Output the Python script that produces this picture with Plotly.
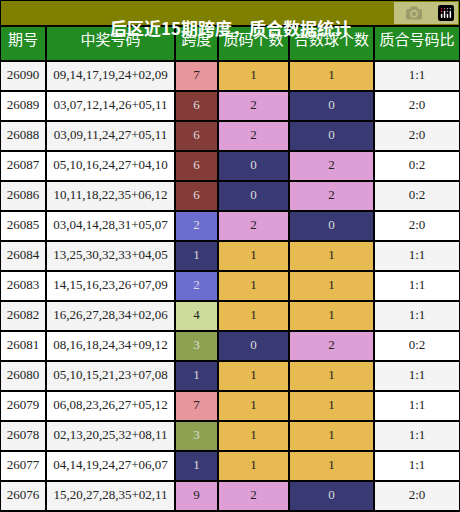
import plotly.graph_objects as go

periods = ["26090", "26089", "26088", "26087", "26086", "26085", "26084", "26083",
           "26082", "26081", "26080", "26079", "26078", "26077", "26076"]
numbers = ["09,14,17,19,24+02,09", "03,07,12,14,26+05,11", "03,09,11,24,27+05,11",
           "05,10,16,24,27+04,10", "10,11,18,22,35+06,12", "03,04,14,28,31+05,07",
           "13,25,30,32,33+04,05", "14,15,16,23,26+07,09", "16,26,27,28,34+02,06",
           "08,16,18,24,34+09,12", "05,10,15,21,23+07,08", "06,08,23,26,27+05,12",
           "02,13,20,25,32+08,11", "04,14,19,24,27+06,07", "15,20,27,28,35+02,11"]
spans = [7, 6, 6, 6, 6, 2, 1, 2, 4, 3, 1, 7, 3, 1, 9]
primes = [1, 2, 2, 0, 0, 2, 1, 1, 1, 0, 1, 1, 1, 1, 2]
composites = [1, 0, 0, 2, 2, 0, 1, 1, 1, 2, 1, 1, 1, 1, 0]
ratios = ["1:1", "2:0", "2:0", "0:2", "0:2", "2:0", "1:1", "1:1",
          "1:1", "0:2", "1:1", "1:1", "1:1", "1:1", "2:0"]
headers = ["期号", "中奖号码", "跨度", "质码个数", "合数球个数", "质合号码比"]

span_col = {1: "#393a74", 2: "#6b6ecf", 3: "#8ca252", 4: "#cedb9c",
            6: "#843c39", 7: "#e7969c", 9: "#de9ed6"}
count_col = {0: "#393a74", 1: "#e7ba52", 2: "#de9ed6"}
dark = {"#393a74", "#6b6ecf", "#8ca252", "#843c39"}

row_bg = ["#f4f4f4" if i % 2 == 0 else "#ffffff" for i in range(len(periods))]
s_bg = [span_col[v] for v in spans]
p_bg = [count_col[v] for v in primes]
c_bg = [count_col[v] for v in composites]
fills = [row_bg, row_bg, s_bg, p_bg, c_bg, row_bg]
fonts = [["#222"] * 15, ["#222"] * 15] + \
        [["#dddddd" if c in dark else "#222" for c in col] for col in (s_bg, p_bg, c_bg)] + \
        [["#222"] * 15]

fig = go.Figure(go.Table(
    columnwidth=[46, 129, 43, 71, 85, 86],
    header=dict(values=headers, fill_color="#228b22", height=35,
                line=dict(color="black", width=2), align="center",
                font=dict(family="Noto Sans CJK SC", size=15, color="white")),
    cells=dict(values=[periods, numbers, spans, primes, composites, ratios],
               fill_color=fills, height=30, align="center",
               line=dict(color="black", width=2),
               font=dict(family="Liberation Serif", size=13, color=fonts)),
    domain=dict(x=[0, 1], y=[0, 1 - 26 / 512]),
))
fig.add_shape(type="rect", xref="paper", yref="paper", x0=0, x1=1,
              y0=1 - 26 / 512, y1=1, fillcolor="#808000", line=dict(color="black", width=2))
fig.add_annotation(text="<b>后区近15期跨度，质合数据统计</b>", xref="paper", yref="paper",
                   x=0.5, y=1 - 13 / 512, showarrow=False,
                   font=dict(family="Noto Sans CJK SC", size=17, color="white"))
fig.update_layout(width=460, height=512, margin=dict(l=0, r=0, t=0, b=0),
                  paper_bgcolor="white")
fig.write_html("out.html", post_script="document.body.style.margin='0';")
